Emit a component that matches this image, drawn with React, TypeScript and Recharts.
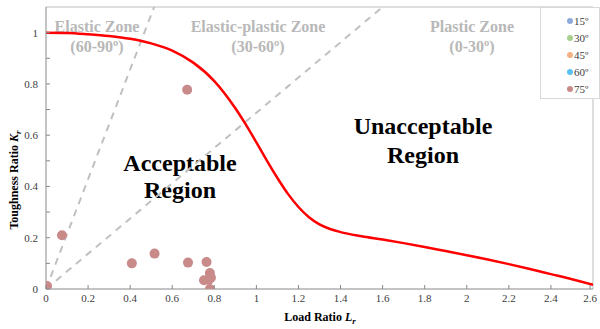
import { ComposedChart, Line, Scatter, XAxis, YAxis, ReferenceLine, Legend, Customized } from "recharts"

// FAD curve
const curveLr = [0, 0.1, 0.2, 0.3, 0.4, 0.5, 0.6, 0.7, 0.8, 0.85, 0.9, 0.95, 1.0, 1.05, 1.1, 1.15, 1.2, 1.25, 1.3, 1.35, 1.4, 1.5, 1.6, 1.7, 1.8, 1.9, 2.0, 2.1, 2.2, 2.3, 2.4, 2.5, 2.6]
const curveKr = [1, 0.999, 0.994, 0.987, 0.976, 0.958, 0.93, 0.883, 0.811, 0.762, 0.705, 0.641, 0.572, 0.501, 0.433, 0.371, 0.32, 0.28, 0.252, 0.234, 0.222, 0.206, 0.193, 0.179, 0.164, 0.148, 0.132, 0.115, 0.097, 0.078, 0.058, 0.038, 0.016]

// zone boundaries (dashed)
const elasticEdgeLr = [0, 0.514]
const elasticEdgeKr = [0, 1.1]
const plasticEdgeLr = [0, 1.6]
const plasticEdgeKr = [0, 1.1]

// measured points, 75º only
const pointLr = [0.005, 0.076, 0.408, 0.516, 0.675, 0.671, 0.763, 0.751, 0.779, 0.784, 0.773, 0.779]
const pointKr = [0.012, 0.21, 0.1, 0.138, 0.103, 0.777, 0.105, 0.034, 0.062, 0.044, 0.035, 0.0]

const angles = ["15º", "30º", "45º", "60º", "75º"]
const angleColors = ["#8eaadb", "#a9d18e", "#f4b183", "#5bc0f5", "#c98a8a"]

const xTicks = [0, 0.2, 0.4, 0.6, 0.8, 1, 1.2, 1.4, 1.6, 1.8, 2, 2.2, 2.4, 2.6]
const yTicks = [0, 0.1, 0.2, 0.3, 0.4, 0.5, 0.6, 0.7, 0.8, 0.9, 1]

const zip = (xs: number[], ys: number[]) => xs.map((x, i) => ({ x, y: ys[i] }))

const curveData = zip(curveLr, curveKr)
const elasticData = zip(elasticEdgeLr, elasticEdgeKr)
const plasticData = zip(plasticEdgeLr, plasticEdgeKr)
const pointData = zip(pointLr, pointKr)

const serif = "Liberation Serif, DejaVu Serif, serif"

const XTick = ({ x, y, payload }: any) => (
  <g>
    <line x1={x} x2={x} y1={y} y2={y - 4} stroke="#888" />
    <text x={x} y={y + 13} textAnchor="middle" style={{ fontFamily: serif, fontSize: 11 }} fill="#404040">
      {payload.value}
    </text>
  </g>
)

const YTick = ({ x, y, payload }: any) => {
  const v = Math.round(payload.value * 10)
  return (
    <g>
      <line x1={x} x2={x + 4} y1={y} y2={y} stroke="#888" />
      {v % 2 === 0 && (
        <text x={x - 8} y={y + 4} textAnchor="end" style={{ fontFamily: serif, fontSize: 11 }} fill="#404040">
          {payload.value}
        </text>
      )}
    </g>
  )
}

const LegendBox = ({ payload }: any) => (
  <div
    style={{
      border: "1px solid #d9d9d9",
      background: "#fff",
      height: 92,
      boxSizing: "border-box",
      paddingTop: 4,
      fontFamily: serif,
      fontSize: 11,
      color: "#404040",
    }}
  >
    {(payload || [])
      .filter((p: any) => angles.includes(p.value))
      .map((p: any) => (
        <div key={p.value} style={{ display: "flex", alignItems: "center", height: 17, paddingLeft: 26 }}>
          <span style={{ width: 6, height: 6, borderRadius: 3, background: p.color, marginRight: 1 }} />
          {p.value}
        </div>
      ))}
  </div>
)

const Annotations = () => {
  const zone = { fontFamily: serif, fontWeight: 700, fontSize: 16 }
  const region = { fontFamily: serif, fontWeight: 700, fontSize: 24 }
  const zt = (x: number, y: number, s: string) => (
    <text x={x} y={y} textAnchor="middle" fill="#b8b8b8" style={zone}>{s}</text>
  )
  const rt = (x: number, y: number, s: string) => (
    <text x={x} y={y} textAnchor="middle" fill="#000" style={region}>{s}</text>
  )
  return (
    <g>
      {zt(97, 32, "Elastic Zone")}
      {zt(97, 52, "(60-90º)")}
      {zt(258, 32, "Elastic-plastic Zone")}
      {zt(258, 52, "(30-60º)")}
      {zt(472, 32, "Plastic Zone")}
      {zt(472, 52, "(0-30º)")}
      {rt(180, 171, "Acceptable")}
      {rt(180, 198, "Region")}
      {rt(423, 134, "Unacceptable")}
      {rt(423, 163, "Region")}
      <text x={320} y={321} textAnchor="middle" fill="#000" style={{ fontFamily: serif, fontWeight: 700, fontSize: 12 }}>
        Load Ratio <tspan fontStyle="italic">L</tspan>
        <tspan fontStyle="italic" fontSize={9} dy={3}>r</tspan>
      </text>
      <text
        transform="translate(18,180) rotate(-90)"
        textAnchor="middle"
        fill="#000"
        style={{ fontFamily: serif, fontWeight: 700, fontSize: 12 }}
      >
        Toughness Ratio <tspan fontStyle="italic">K</tspan>
        <tspan fontStyle="italic" fontSize={9} dy={3}>r</tspan>
      </text>
    </g>
  )
}

export default function App() {
  return (
    <div style={{ position: "absolute", left: 0, top: 0, width: 600, height: 329, background: "#fff" }}>
      <ComposedChart width={600} height={329} margin={{ top: 7, right: 7, bottom: 10, left: 6 }}>
        <XAxis
          type="number"
          dataKey="x"
          domain={[0, 2.6]}
          ticks={xTicks}
          allowDataOverflow
          height={30}
          tickSize={0}
          tickMargin={0}
          axisLine={{ stroke: "#888" }}
          tickLine={false}
          tick={<XTick />}
        />
        <YAxis
          type="number"
          dataKey="y"
          domain={[0, 1.1]}
          ticks={yTicks}
          allowDataOverflow
          width={40}
          tickSize={0}
          tickMargin={0}
          axisLine={{ stroke: "#888" }}
          tickLine={false}
          tick={<YTick />}
        />
        <ReferenceLine y={1.1} stroke="#bdbdbd" />
        <ReferenceLine x={2.6} stroke="#bdbdbd" />
        <Line
          data={elasticData}
          dataKey="y"
          stroke="#c0c0c0"
          strokeWidth={2}
          strokeDasharray="7 6"
          dot={false}
          legendType="none"
          isAnimationActive={false}
        />
        <Line
          data={plasticData}
          dataKey="y"
          stroke="#c0c0c0"
          strokeWidth={2}
          strokeDasharray="7 6"
          dot={false}
          legendType="none"
          isAnimationActive={false}
        />
        <Line
          data={curveData}
          dataKey="y"
          type="monotone"
          stroke="#ff0000"
          strokeWidth={2.5}
          dot={false}
          legendType="none"
          isAnimationActive={false}
        />
        {angles.map((a, i) => (
          <Scatter
            key={a}
            name={a}
            data={i === 4 ? pointData : []}
            dataKey="y"
            fill={angleColors[i]}
            shape={(p: any) => <circle cx={p.cx} cy={p.cy} r={5} fill={angleColors[i]} />}
            isAnimationActive={false}
          />
        ))}
        <Legend
          layout="horizontal"
          verticalAlign="middle"
          content={<LegendBox />}
          wrapperStyle={{ position: "absolute", top: 7, left: 540, width: 60, height: 92 }}
        />
        <Customized component={<Annotations />} />
      </ComposedChart>
    </div>
  )
}
